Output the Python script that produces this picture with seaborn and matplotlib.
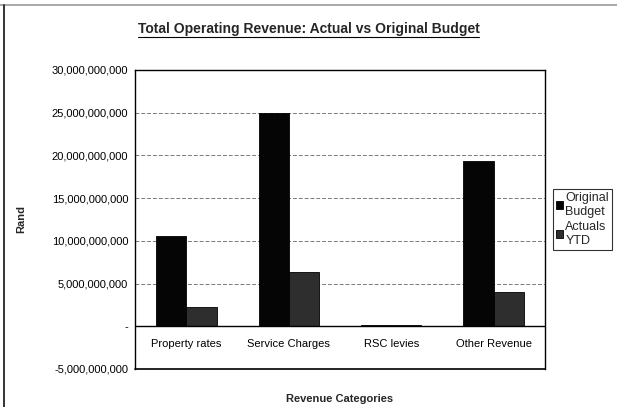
import matplotlib
matplotlib.use("Agg")
import matplotlib.pyplot as plt
import matplotlib.ticker as mticker
from matplotlib.lines import Line2D
import seaborn as sns
import pandas as pd

categories = ["Property rates", "Service Charges", "RSC levies", "Other Revenue"]
original_budget = [10.57e9, 24.98e9, 0.14e9, 19.36e9]
actuals_ytd = [2.26e9, 6.36e9, 0.10e9, 4.02e9]
series_names = ["Original\nBudget", "Actuals\nYTD"]
y_ticks = [-5e9, 0, 5e9, 10e9, 15e9, 20e9, 25e9, 30e9]

df = pd.DataFrame({
    "category": categories * 2,
    "value": original_budget + actuals_ytd,
    "series": [series_names[0]] * 4 + [series_names[1]] * 4,
})

sns.set_theme(style="white")
plt.rcParams["font.family"] = ["Liberation Sans", "DejaVu Sans"]

fig = plt.figure(figsize=(6.17, 4.07), dpi=100)
ax = fig.add_axes([0.219, 0.0934, 0.664, 0.735])

sns.barplot(data=df, x="category", y="value", hue="series",
            palette=["#050505", "#2e2e2e"], width=0.59, gap=0,
            edgecolor="black", linewidth=0.6, ax=ax, legend=True)

ax.set_xlim(-0.5, 3.5)
ax.set_ylim(-5e9, 30e9)
ax.set_yticks(y_ticks)
ax.yaxis.set_major_formatter(mticker.FuncFormatter(
    lambda v, p: "-" if v == 0 else f"{v:,.0f}"))
ax.tick_params(axis="y", labelsize=8, length=4, width=0.8, colors="black",
               direction="inout", pad=3)

# gridlines
for v in y_ticks[2:-1]:
    ax.axhline(v, color="#7a7a7a", lw=0.7, ls=(0, (4, 2)), zorder=0)
ax.axhline(0, color="black", lw=1.0, zorder=3)
ax.axhline(-5e9, color="black", lw=1.2, zorder=3, clip_on=False)

# spines
for s in ["left", "right", "top"]:
    ax.spines[s].set_visible(True)
    ax.spines[s].set_color("black")
    ax.spines[s].set_linewidth(1.0)
ax.spines["bottom"].set_position(("data", 0))
ax.spines["bottom"].set_visible(False)

# x tick labels near zero line
ax.set_xticks(range(len(categories)))
ax.set_xticklabels(categories, fontsize=8)
ax.tick_params(axis="x", length=0, pad=9, colors="black")
ax.set_xticks([0.5, 1.5, 2.5], minor=True)
ax.tick_params(axis="x", which="minor", length=3, width=0.8, direction="out", color="black")

ax.set_xlabel("Revenue Categories", fontsize=8, fontweight="bold", labelpad=10)
ax.xaxis.set_label_coords(0.5, -0.085)
ax.set_ylabel("Rand", fontsize=8, fontweight="bold", labelpad=0)
ax.yaxis.set_label_coords(-0.265, 0.5)
ax.grid(False)

# legend
handles, labels = ax.get_legend_handles_labels()
ax.legend_.remove()
leg = fig.legend(handles, labels, loc="upper left", bbox_to_anchor=(0.896, 0.535),
                 fontsize=9, frameon=True, fancybox=False, edgecolor="black",
                 handlelength=0.6, handleheight=0.6, handletextpad=0.15,
                 borderpad=0.25, labelspacing=0.25, borderaxespad=0)
leg.get_frame().set_linewidth(0.8)

# title with underline
title = fig.text(0.5, 0.918, "Total Operating Revenue: Actual vs Original Budget",
                 ha="center", va="baseline", fontsize=10, fontweight="bold")
fig.canvas.draw()
bb = title.get_window_extent().transformed(fig.transFigure.inverted())
fig.add_artist(Line2D([bb.x0, bb.x1], [0.908, 0.908], color="black", lw=0.8,
                      transform=fig.transFigure))

# chart-area border (top and left edges only, as in the scan)
fig.add_artist(Line2D([0.0, 1.0], [0.988, 0.988], color="#9a9a9a", lw=1.2,
                      transform=fig.transFigure))
fig.add_artist(Line2D([0.006, 0.006], [0.0, 0.988], color="#333333", lw=1.4,
                      transform=fig.transFigure))

fig.savefig("out.png", dpi=100)
